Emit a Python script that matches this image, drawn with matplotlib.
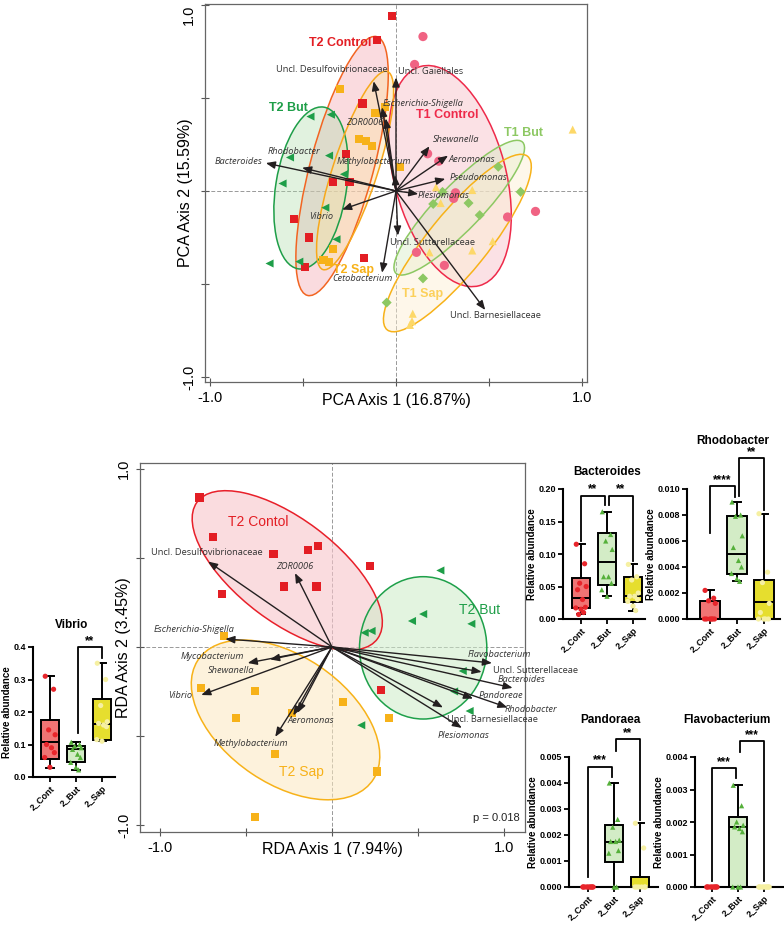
import matplotlib
matplotlib.use('Agg')
import matplotlib.pyplot as plt
from matplotlib.patches import Ellipse

plt.rcParams['font.family'] = ['Liberation Sans', 'DejaVu Sans']

W, H = 784, 926
fig = plt.figure(figsize=(7.84, 9.26), dpi=100)


def px_axes(x0, y0, x1, y1):
    return fig.add_axes([x0 / W, 1 - y1 / H, (x1 - x0) / W, (y1 - y0) / H])

# ---------------------------------------------------------------- PCA data
pca_groups = ['T2 Control', 'T1 Control', 'T2 But', 'T1 But', 'T2 Sap', 'T1 Sap']
pca_x = {
    'T2 Control': [-0.02, -0.10, -0.18, -0.27, -0.34, -0.25, -0.55, -0.47, -0.49, -0.17],
    'T1 Control': [0.145, 0.10, 0.17, 0.23, 0.32, 0.31, 0.60, 0.75, 0.11, 0.26],
    'T2 But': [-0.46, -0.35, -0.57, -0.36, -0.28, -0.61, -0.38, -0.32, -0.52, -0.68],
    'T1 But': [0.55, 0.67, 0.25, 0.20, 0.39, 0.45, 0.145, -0.05],
    'T2 Sap': [-0.30, -0.06, -0.11, -0.20, -0.16, -0.13, 0.02, -0.34, -0.39, -0.36],
    'T1 Sap': [0.95, 0.215, 0.41, 0.24, 0.18, 0.52, 0.41, 0.09, 0.086, 0.075],
}
pca_y = {
    'T2 Control': [0.94, 0.81, 0.47, 0.20, 0.05, 0.05, -0.15, -0.25, -0.41, -0.36],
    'T1 Control': [0.83, 0.68, 0.20, 0.16, -0.01, -0.04, -0.14, -0.11, -0.33, -0.40],
    'T2 But': [0.40, 0.41, 0.18, 0.19, 0.09, 0.04, -0.09, -0.26, -0.38, -0.39],
    'T1 But': [0.13, -0.005, -0.005, -0.07, -0.065, -0.13, -0.47, -0.60],
    'T2 Sap': [0.55, 0.45, 0.42, 0.28, 0.27, 0.24, 0.13, -0.31, -0.37, -0.38],
    'T1 Sap': [0.33, 0.02, 0.005, -0.065, -0.33, -0.27, -0.32, -0.66, -0.70, -0.72],
}
# ellipse: centre x, centre y, semi-axis a, semi-axis b, angle (deg)
pca_ell = {
    'T2 Control': (-0.29, 0.134, 0.72, 0.17, 75),
    'T1 Control': (0.29, 0.08, 0.61, 0.30, 105),
    'T2 But': (-0.457, 0.016, 0.44, 0.19, 81),
    'T1 But': (0.34, -0.09, 0.49, 0.12, 46),
    'T2 Sap': (-0.22, 0.11, 0.56, 0.12, 72),
    'T1 Sap': (0.33, -0.28, 0.60, 0.16, 51),
}
pca_species = ['Uncl. Desulfovibrionaceae', 'Uncl. Gaiellales', 'Escherichia-Shigella',
               'ZOR0006', 'Rhodobacter', 'Bacteroides', 'Methylobacterium', 'Vibrio',
               'Shewanella', 'Aeromonas', 'Pseudomonas', 'Plesiomonas',
               'Uncl. Sutterellaceae', 'Cetobacterium', 'Uncl. Barnesiellaceae']
pca_arrow_x = [-0.12, 0.0, -0.075, -0.055, -0.505, -0.70, -0.005, -0.29,
               0.18, 0.28, 0.265, 0.12, 0.01, -0.075, 0.48]
pca_arrow_y = [0.59, 0.61, 0.45, 0.39, 0.125, 0.15, 0.085, -0.10,
               0.24, 0.19, 0.065, -0.016, -0.24, -0.44, -0.64]

# ---------------------------------------------------------------- RDA data
rda_groups = ['T2 Contol', 'T2 But', 'T2 Sap']
rda_x = {
    'T2 Contol': [-0.77, -0.69, -0.34, -0.14, -0.08, -0.28, -0.09, -0.64, 0.22, 0.285],
    'T2 But': [0.63, 0.53, 0.465, 0.81, 0.23, 0.19, 0.76, 0.71, 0.80, 0.17],
    'T2 Sap': [-0.63, -0.76, -0.45, -0.56, -0.23, 0.064, 0.33, -0.33, 0.26, -0.45],
}
rda_y = {
    'T2 Contol': [0.84, 0.62, 0.52, 0.545, 0.57, 0.34, 0.34, 0.30, 0.455, -0.24],
    'T2 But': [0.43, 0.185, 0.146, 0.13, 0.09, 0.08, -0.135, -0.25, -0.36, -0.44],
    'T2 Sap': [0.06, -0.23, -0.25, -0.40, -0.37, -0.31, -0.40, -0.60, -0.70, -0.955],
}
rda_ell = {
    'T2 Contol': (-0.26, 0.43, 0.65, 0.29, -36),
    'T2 But': (0.53, -0.005, 0.37, 0.40, 0),
    'T2 Sap': (-0.27, -0.41, 0.61, 0.36, -33),
}
rda_species = ['Uncl. Desulfovibrionaceae', 'ZOR0006', 'Escherichia-Shigella',
               'Mycobacterium', 'Shewanella', 'Vibrio', 'Aeromonas', '',
               'Methylobacterium', 'Flavobacterium', 'Uncl. Sutterellaceae',
               'Bacteroides', 'Pandoreae', 'Rhodobacter', 'Uncl. Barnesiellaceae',
               'Plesiomonas']
rda_arrow_x = [-0.72, -0.215, -0.62, -0.49, -0.36, -0.76, -0.20, -0.225,
               -0.33, 0.93, 0.87, 1.05, 0.82, 1.02, 0.645, 0.755]
rda_arrow_y = [0.48, 0.415, 0.045, -0.09, -0.07, -0.27, -0.37, -0.385,
               -0.505, -0.09, -0.14, -0.23, -0.29, -0.34, -0.34, -0.455]
rda_p_text = 'p = 0.018'

# ---------------------------------------------------------------- box data
box_cats = ['2_Cont', '2_But', '2_Sap']
bact_q1 = [0.017, 0.052, 0.026]
bact_med = [0.033, 0.087, 0.035]
bact_q3 = [0.063, 0.133, 0.065]
bact_lo = [0.007, 0.035, 0.013]
bact_hi = [0.115, 0.165, 0.084]
bact_pts = [[0.115, 0.085, 0.055, 0.05, 0.045, 0.03, 0.018, 0.017, 0.015, 0.01, 0.007],
            [0.165, 0.13, 0.12, 0.107, 0.065, 0.065, 0.055, 0.045, 0.035],
            [0.084, 0.065, 0.06, 0.04, 0.035, 0.035, 0.03, 0.027, 0.02, 0.013]]

rhodo_q1 = [0.0, 0.0035, 0.0]
rhodo_med = [0.0, 0.005, 0.0013]
rhodo_q3 = [0.0014, 0.0079, 0.003]
rhodo_lo = [0.0, 0.0029, 0.0]
rhodo_hi = [0.0022, 0.009, 0.0081]
rhodo_pts = [[0.0022, 0.0016, 0.0014, 0.0012, 0.0, 0.0, 0.0, 0.0, 0.0, 0.0],
             [0.009, 0.008, 0.0079, 0.0064, 0.0055, 0.0045, 0.004, 0.0035, 0.0031, 0.0029],
             [0.0081, 0.0036, 0.0028, 0.0012, 0.0005, 0.0, 0.0, 0.0, 0.0]]

pand_q1 = [0.0, 0.00097, 0.0]
pand_med = [0.0, 0.00175, 0.0]
pand_q3 = [0.0, 0.0024, 0.00037]
pand_lo = [0.0, 0.0, 0.0]
pand_hi = [0.0, 0.004, 0.00245]
pand_pts = [[0.0] * 10,
            [0.004, 0.0026, 0.0023, 0.0018, 0.00175, 0.00175, 0.0014, 0.0013, 0.0, 0.0],
            [0.00245, 0.0015, 0.0, 0.0, 0.0, 0.0, 0.0, 0.0]]

flavo_q1 = [0.0, 0.0, 0.0]
flavo_med = [0.0, 0.00185, 0.0]
flavo_q3 = [0.0, 0.00214, 0.0]
flavo_lo = [0.0, 0.0, 0.0]
flavo_hi = [0.0, 0.00313, 0.0]
flavo_pts = [[0.0] * 10,
             [0.00313, 0.0025, 0.002, 0.0019, 0.00185, 0.0018, 0.0017, 0.0, 0.0, 0.0],
             [0.0] * 10]

vib_q1 = [0.055, 0.045, 0.115]
vib_med = [0.107, 0.085, 0.163]
vib_q3 = [0.175, 0.095, 0.24]
vib_lo = [0.028, 0.022, 0.11]
vib_hi = [0.31, 0.107, 0.35]
vib_pts = [[0.31, 0.27, 0.145, 0.13, 0.1, 0.09, 0.075, 0.06, 0.03],
           [0.107, 0.1, 0.095, 0.09, 0.085, 0.07, 0.06, 0.045, 0.03, 0.022],
           [0.35, 0.3, 0.22, 0.17, 0.165, 0.16, 0.155, 0.115, 0.11]]

# significance brackets: (i, j, top, leg_i_end, leg_j_end, stars)
bact_sig = [(0, 1, 0.19, 0.12, 0.175, '**'), (1, 2, 0.19, 0.175, 0.09, '**')]
rhodo_sig = [(0, 1, 0.01025, 0.0066, 0.0094, '****'), (1, 2, 0.0124, 0.0095, 0.0084, '**')]
pand_sig = [(0, 1, 0.00463, 0.0004, 0.00424, '***'), (1, 2, 0.0057, 0.00524, 0.00258, '**')]
flavo_sig = [(0, 1, 0.00365, 0.0002, 0.00335, '***'), (1, 2, 0.00449, 0.00416, 0.0002, '***')]
vib_sig = [(1, 2, 0.40, 0.135, 0.366, '**')]

# ---------------------------------------------------------------- styles
ARROW_C = '#231f20'
LABEL_C = '#333333'
pca_style = {
    'T2 Control': dict(m='s', c='#E31E24', edge='#F26522', fill='#F4B0BA', fa=0.45, lc='#E31E24', s=34),
    'T1 Control': dict(m='o', c='#F06383', edge='#EE2A4A', fill='#F7B5C0', fa=0.40, lc='#EE2A4A', s=44),
    'T2 But': dict(m='<', c='#1E9E48', edge='#1E9E48', fill='#A9DBA6', fa=0.35, lc='#1E9E48', s=34),
    'T1 But': dict(m='D', c='#8DC863', edge='#8DC863', fill='#CDE8B5', fa=0.35, lc='#8DC863', s=26),
    'T2 Sap': dict(m='s', c='#F7B219', edge='#F7A81B', fill='#FCE2A8', fa=0.45, lc='#F7B219', s=34),
    'T1 Sap': dict(m='^', c='#FDD868', edge='#F7B219', fill='#FDEFD2', fa=0.45, lc='#FCD05A', s=34),
}
pca_group_lab = {
    'T2 Control': (-0.30, 0.795), 'T1 Control': (0.274, 0.41), 'T2 But': (-0.58, 0.446),
    'T1 But': (0.683, 0.312), 'T2 Sap': (-0.23, -0.425), 'T1 Sap': (0.145, -0.554),
}
# label anchor (x, y, ha)
pca_lab_pos = [(-0.344, 0.655, 'center'), (0.01, 0.64, 'left'), (-0.07, 0.47, 'left'),
               (-0.07, 0.37, 'right'), (-0.55, 0.21, 'center'), (-0.72, 0.16, 'right'),
               (-0.317, 0.16, 'left'), (-0.40, -0.14, 'center'), (0.20, 0.275, 'left'),
               (0.285, 0.17, 'left'), (0.29, 0.075, 'left'), (0.118, -0.027, 'left'),
               (-0.03, -0.275, 'left'), (-0.344, -0.468, 'left'), (0.29, -0.672, 'left')]
pca_italic = [False, False, True, True, True, True, True, True, True, True, True, True,
              False, True, False]

rda_style = {
    'T2 Contol': dict(m='s', c='#E31E24', edge='#E8202A', fill='#F7C5CB', fa=0.6, lc='#E31E24', s=34),
    'T2 But': dict(m='<', c='#1E9E48', edge='#1EA04A', fill='#CDEBC8', fa=0.55, lc='#1E9E48', s=34),
    'T2 Sap': dict(m='s', c='#F7B219', edge='#F7B219', fill='#FCE9C0', fa=0.55, lc='#F7B219', s=34),
}
rda_group_lab = {'T2 Contol': (-0.43, 0.70), 'T2 But': (0.86, 0.21), 'T2 Sap': (-0.175, -0.70)}
rda_lab_pos = [(-0.73, 0.53, 'center'), (-0.215, 0.455, 'center'), (-0.564, 0.10, 'right'),
               (-0.51, -0.056, 'right'), (-0.453, -0.13, 'right'), (-0.81, -0.275, 'right'),
               (-0.26, -0.415, 'left'), (0, 0, 'left'), (-0.256, -0.545, 'right'),
               (0.79, -0.045, 'left'), (0.936, -0.13, 'left'), (0.965, -0.185, 'left'),
               (0.85, -0.275, 'left'), (1.006, -0.35, 'left'), (0.67, -0.405, 'left'),
               (0.616, -0.495, 'left')]
rda_italic = [False, True, True, True, True, True, True, True, True, True, False, True,
              True, True, False, True]


def ordination(ax, groups, xs, ys, ells, style, glab, gbold, gsize,
               species, ax_x, ax_y, lab_pos, italic):
    for g in groups:
        st = style[g]
        cx, cy, a, b, ang = ells[g]
        ax.add_patch(Ellipse((cx, cy), 2 * a, 2 * b, angle=ang, facecolor=st['fill'],
                             alpha=st['fa'], edgecolor='none', zorder=1))
        ax.add_patch(Ellipse((cx, cy), 2 * a, 2 * b, angle=ang, facecolor='none',
                             edgecolor=st['edge'], lw=1.1, zorder=2))
    for g in groups:
        st = style[g]
        ax.scatter(xs[g], ys[g], marker=st['m'], s=st['s'], c=st['c'],
                   edgecolors='none', zorder=3)
    for sx, sy in zip(ax_x, ax_y):
        ax.annotate('', xy=(sx, sy), xytext=(0, 0),
                    arrowprops=dict(arrowstyle='-|>,head_length=0.55,head_width=0.22',
                                    color=ARROW_C, lw=1.0, shrinkA=0, shrinkB=0),
                    zorder=4)
    for name, (lx, ly, ha), it in zip(species, lab_pos, italic):
        if name:
            ax.text(lx, ly, name, ha=ha, va='center', fontsize=6.7,
                    style='italic' if it else 'normal', color=LABEL_C,
                    family=['Open Sans', 'DejaVu Sans'], zorder=6, clip_on=False)
    for g in groups:
        gx, gy = glab[g]
        ax.text(gx, gy, g, ha='center', va='center', fontsize=gsize,
                fontweight='bold' if gbold else 'normal', color=style[g]['lc'], zorder=6)
    ax.axhline(0, color='#999999', lw=0.7, ls=(0, (4, 2)), zorder=0)
    ax.axvline(0, color='#999999', lw=0.7, ls=(0, (4, 2)), zorder=0)
    ax.set_xticks([-1, -0.5, 0, 0.5, 1])
    ax.set_yticks([-1, -0.5, 0, 0.5, 1])
    ax.set_xticklabels(['-1.0', '', '', '', '1.0'], fontsize=10.5)
    ax.set_yticklabels(['-1.0', '', '', '', '1.0'], fontsize=10.5, rotation=90, va='center')
    ax.tick_params(direction='inout', length=6, width=0.8, color='#555555')
    for sp in ax.spines.values():
        sp.set_color('#666666')
        sp.set_linewidth(0.9)


# ---------------------------------------------------------------- PCA axes
ax1 = px_axes(205, 4, 587, 382)
ordination(ax1, pca_groups, pca_x, pca_y, pca_ell, pca_style, pca_group_lab, True, 9,
           pca_species, pca_arrow_x, pca_arrow_y, pca_lab_pos, pca_italic)
ax1.set_xlim(-1.027, 1.027)
ax1.set_ylim(-1.027, 1.005)
ax1.get_yticklabels()[-1].set_va('top')
ax1.set_xlabel('PCA Axis 1 (16.87%)', fontsize=11.5)
ax1.xaxis.set_label_coords(0.5, -11 / 378)
ax1.set_ylabel('PCA Axis 2 (15.59%)', fontsize=11.5)
ax1.yaxis.set_label_coords(-12 / 382, 0.5)

# ---------------------------------------------------------------- RDA axes
ax2 = px_axes(140, 463, 525, 832)
ordination(ax2, rda_groups, rda_x, rda_y, rda_ell, rda_style, rda_group_lab, False, 10,
           rda_species, rda_arrow_x, rda_arrow_y, rda_lab_pos, rda_italic)
ax2.set_xlim(-1.116, 1.122)
ax2.set_ylim(-1.04, 1.034)
ax2.set_xlabel('RDA Axis 1 (7.94%)', fontsize=11.5)
ax2.xaxis.set_label_coords(0.5, -10 / 369)
ax2.set_ylabel('RDA Axis 2 (3.45%)', fontsize=11.5)
ax2.yaxis.set_label_coords(-9 / 385, 0.5)
ax2.text(1.09, -0.96, rda_p_text, ha='right', va='center', fontsize=8, color='#222222')

# ---------------------------------------------------------------- boxplots
box_fill = ['#F07474', '#D3ECC6', '#E6DE2E']
pt_color = ['#E8252B', '#55B03A', '#F6F0A2']
pt_marker = ['o', '^', 'o']
jit = [-0.18, 0.14, -0.05, 0.2, -0.13, 0.06, 0.17, -0.2, 0.0, 0.1, -0.09]


def boxpanel(ax, q1, med, q3, lo, hi, pts, yticks, yfmt, xlim, title, title_px, sig):
    stats = []
    for i in range(3):
        stats.append(dict(med=med[i], q1=q1[i], q3=q3[i], whislo=lo[i], whishi=hi[i],
                          label=box_cats[i]))
    bp = ax.bxp(stats, positions=[0, 1, 2], widths=0.72, showfliers=False,
                patch_artist=True, capwidths=0.32,
                boxprops=dict(linewidth=1.4, edgecolor='black'),
                medianprops=dict(color='black', linewidth=1.4),
                whiskerprops=dict(color='black', linewidth=1.4),
                capprops=dict(color='black', linewidth=1.4))
    for patch, fc in zip(bp['boxes'], box_fill):
        patch.set_facecolor(fc)
    for i in range(3):
        xs = [i + jit[k % len(jit)] for k in range(len(pts[i]))]
        ax.scatter(xs, pts[i], marker=pt_marker[i], s=14, c=pt_color[i],
                   edgecolors='none', zorder=5, clip_on=False)
    ax.set_ylim(0, yticks[-1])
    ax.set_xlim(*xlim)
    ax.set_yticks(yticks)
    ax.set_yticklabels([yfmt.format(v) for v in yticks], fontsize=6.5, fontweight='bold')
    ax.set_xticks([0, 1, 2])
    ax.set_xticklabels(box_cats, rotation=45, ha='right', rotation_mode='anchor',
                       fontsize=6.5, fontweight='bold')
    ax.spines['top'].set_visible(False)
    ax.spines['right'].set_visible(False)
    for s in ('left', 'bottom'):
        ax.spines[s].set_linewidth(1.5)
    ax.tick_params(direction='out', length=3.5, width=1.3, pad=1.5)
    ax.set_ylabel('Relative abundance', fontsize=7, fontweight='bold', labelpad=1)
    for (i, j, top, ei, ej, star) in sig:
        xi = i + (0.08 if i == 1 else 0)
        xj = j - (0.08 if j == 1 else 0)
        ax.plot([xi, xi, xj, xj], [ei, top, top, ej], color='black', lw=1.3,
                clip_on=False, zorder=6)
        ax.text((xi + xj) / 2, top, star, ha='center', va='bottom', fontsize=8.5,
                fontweight='bold')
    fig.text(title_px[0] / W, 1 - title_px[1] / H, title, ha='center', va='center',
             fontsize=8.5, fontweight='bold')
    return ax


axb = px_axes(563, 489, 645, 619)
boxpanel(axb, bact_q1, bact_med, bact_q3, bact_lo, bact_hi, bact_pts,
         [0, 0.05, 0.10, 0.15, 0.20], '{:.2f}', (-0.69, 2.46), 'Bacteroides', (607, 472), bact_sig)

axr = px_axes(687, 489, 780, 619)
boxpanel(axr, rhodo_q1, rhodo_med, rhodo_q3, rhodo_lo, rhodo_hi, rhodo_pts,
         [0, 0.002, 0.004, 0.006, 0.008, 0.010], '{:.3f}', (-0.85, 2.6), 'Rhodobacter', (733, 441), rhodo_sig)

axp = px_axes(569, 757, 658, 887)
boxpanel(axp, pand_q1, pand_med, pand_q3, pand_lo, pand_hi, pand_pts,
         [0, 0.001, 0.002, 0.003, 0.004, 0.005], '{:.3f}', (-0.73, 2.69), 'Pandoraea', (610, 720), pand_sig)

axf = px_axes(695, 757, 783, 887)
boxpanel(axf, flavo_q1, flavo_med, flavo_q3, flavo_lo, flavo_hi, flavo_pts,
         [0, 0.001, 0.002, 0.003, 0.004], '{:.3f}', (-0.65, 2.73), 'Flavobacterium', (727, 720), flavo_sig)

axv = px_axes(33, 647, 115, 777)
boxpanel(axv, vib_q1, vib_med, vib_q3, vib_lo, vib_hi, vib_pts,
         [0, 0.1, 0.2, 0.3, 0.4], '{:.1f}', (-0.65, 2.5), 'Vibrio', (72, 625), vib_sig)

fig.savefig('out.png', dpi=100)
